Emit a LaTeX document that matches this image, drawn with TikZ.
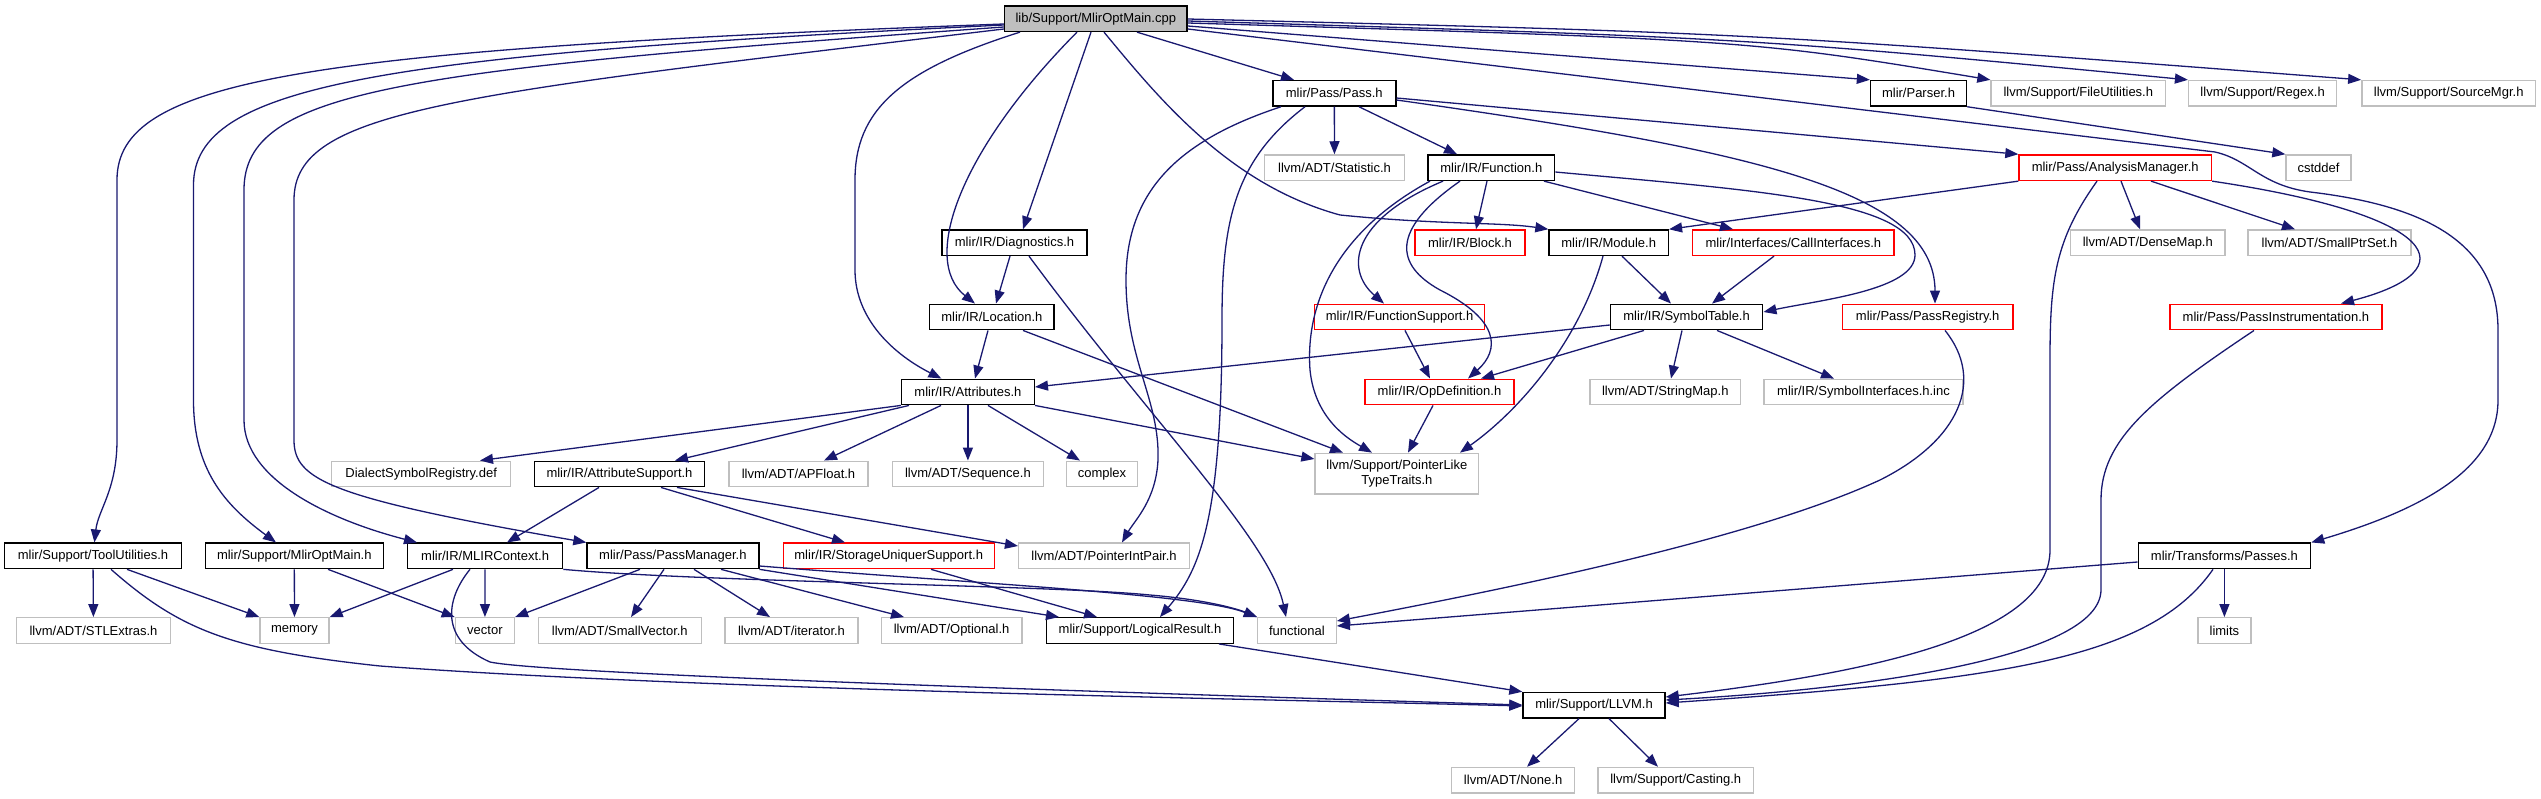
\documentclass[tikz,border=0pt]{standalone}
\usepackage{fontspec}
\setmainfont{Liberation Sans}
\usepackage{tikz}
\usetikzlibrary{arrows.meta}
\definecolor{incblue}{RGB}{25,25,112}
\definecolor{sysgray}{RGB}{191,191,191}
\definecolor{rootfill}{RGB}{191,191,191}
\definecolor{truncred}{RGB}{255,0,0}
\tikzset{
  hdr/.style={rectangle,draw=black,line width=1.4pt,inner sep=0pt,minimum height=25.5pt,font=\fontsize{13}{15}\selectfont,align=center},
  roothdr/.style={hdr,fill=rootfill},
  syshdr/.style={hdr,draw=sysgray},
  trunchdr/.style={hdr,draw=truncred},
  incl/.style={-{Triangle[length=13pt,width=10pt]},incblue,line width=1.3pt}
}
\begin{document}
\begin{tikzpicture}[x=1pt,y=-1pt]
  \useasboundingbox (0,0) rectangle (2541,799);
  \node[roothdr,minimum width=182.5pt] (main) at (1095.8,18.7) {lib/Support/MlirOptMain.cpp};
  \node[hdr,minimum width=123pt] (passh) at (1334.3,93.3) {mlir/Pass/Pass.h};
  \node[hdr,minimum width=96pt] (parser) at (1918.5,93.3) {mlir/Parser.h};
  \node[syshdr,minimum width=174.6pt] (fileutil) at (2078.3,93.3) {llvm/Support/FileUtilities.h};
  \node[syshdr,minimum width=148pt] (regex) at (2262.6,93.3) {llvm/Support/Regex.h};
  \node[syshdr,minimum width=173.8pt] (srcmgr) at (2448.7,93.3) {llvm/Support/SourceMgr.h};
  \node[syshdr,minimum width=140pt] (statistic) at (1334.5,167.7) {llvm/ADT/Statistic.h};
  \node[hdr,minimum width=126.6pt] (function) at (1491.3,167.7) {mlir/IR/Function.h};
  \node[trunchdr,minimum width=192.4pt] (analysis) at (2115.2,167.7) {mlir/Pass/AnalysisManager.h};
  \node[syshdr,minimum width=65pt] (cstddef) at (2318.5,167.7) {cstddef};
  \node[hdr,minimum width=145pt] (diagnostics) at (1014.5,242.7) {mlir/IR/Diagnostics.h};
  \node[trunchdr,minimum width=110pt] (block) at (1470,242.7) {mlir/IR/Block.h};
  \node[hdr,minimum width=119.4pt] (module) at (1608.7,242.7) {mlir/IR/Module.h};
  \node[trunchdr,minimum width=201.3pt] (callif) at (1793.4,242.7) {mlir/Interfaces/CallInterfaces.h};
  \node[syshdr,minimum width=154.5pt] (densemap) at (2147.8,242.7) {llvm/ADT/DenseMap.h};
  \node[syshdr,minimum width=163pt] (smallptrset) at (2329.5,242.7) {llvm/ADT/SmallPtrSet.h};
  \node[hdr,minimum width=124.3pt] (location) at (991.9,317) {mlir/IR/Location.h};
  \node[trunchdr,minimum width=170.2pt] (funcsupport) at (1399.6,317) {mlir/IR/FunctionSupport.h};
  \node[hdr,minimum width=152.3pt] (symtable) at (1686.6,317) {mlir/IR/SymbolTable.h};
  \node[trunchdr,minimum width=170.7pt] (passreg) at (1927.7,317) {mlir/Pass/PassRegistry.h};
  \node[trunchdr,minimum width=212.2pt] (passinstr) at (2275.9,317) {mlir/Pass/PassInstrumentation.h};
  \node[hdr,minimum width=132.8pt] (attributes) at (967.9,392) {mlir/IR/Attributes.h};
  \node[trunchdr,minimum width=149pt] (opdef) at (1439.5,392) {mlir/IR/OpDefinition.h};
  \node[syshdr,minimum width=150.5pt] (stringmap) at (1665.3,392) {llvm/ADT/StringMap.h};
  \node[syshdr,minimum width=199pt] (symif) at (1863.5,392) {mlir/IR/SymbolInterfaces.h.inc};
  \node[syshdr,minimum width=179pt] (dialectreg) at (421.2,474) {DialectSymbolRegistry.def};
  \node[hdr,minimum width=170.2pt] (attrsupport) at (619.5,474) {mlir/IR/AttributeSupport.h};
  \node[syshdr,minimum width=139pt] (apfloat) at (798.5,474) {llvm/ADT/APFloat.h};
  \node[syshdr,minimum width=151.2pt] (sequence) at (967.9,474) {llvm/ADT/Sequence.h};
  \node[syshdr,minimum width=70.5pt] (complex) at (1102,474) {complex};
  \node[syshdr,minimum width=163.7pt,minimum height=40.7pt] (ptrlike) at (1396.9,473.7) {llvm/Support/PointerLike\\TypeTraits.h};
  \node[hdr,minimum width=177.3pt] (toolutil) at (93,555.9) {mlir/Support/ToolUtilities.h};
  \node[hdr,minimum width=177.8pt] (optmainh) at (294.3,555.9) {mlir/Support/MlirOptMain.h};
  \node[hdr,minimum width=155pt] (mlirctx) at (485.1,555.9) {mlir/IR/MLIRContext.h};
  \node[hdr,minimum width=171.8pt] (passmgr) at (672.9,555.9) {mlir/Pass/PassManager.h};
  \node[trunchdr,minimum width=211pt] (storage) at (888.7,555.9) {mlir/IR/StorageUniquerSupport.h};
  \node[syshdr,minimum width=170.7pt] (ptrintpair) at (1104,555.9) {llvm/ADT/PointerIntPair.h};
  \node[hdr,minimum width=172.4pt] (transpasses) at (2224.4,555.9) {mlir/Transforms/Passes.h};
  \node[syshdr,minimum width=154.4pt] (stlextras) at (93.5,630.5) {llvm/ADT/STLExtras.h};
  \node[syshdr,minimum width=69pt] (memory) at (294.5,630.5) {memory};
  \node[syshdr,minimum width=59pt] (vector) at (484.9,630.5) {vector};
  \node[syshdr,minimum width=163.2pt] (smallvec) at (619.8,630.5) {llvm/ADT/SmallVector.h};
  \node[syshdr,minimum width=133pt] (iterator) at (791.5,630.5) {llvm/ADT/iterator.h};
  \node[syshdr,minimum width=140.4pt] (optional) at (951.6,630.5) {llvm/ADT/Optional.h};
  \node[hdr,minimum width=186.5pt] (logicalres) at (1140,630.5) {mlir/Support/LogicalResult.h};
  \node[syshdr,minimum width=78.6pt] (functional) at (1296.9,630.5) {functional};
  \node[syshdr,minimum width=53.2pt] (limits) at (2224.4,630.5) {limits};
  \node[hdr,minimum width=142pt] (llvmh) at (1594,705.2) {mlir/Support/LLVM.h};
  \node[syshdr,minimum width=123pt] (noneh) at (1513.1,780.2) {llvm/ADT/None.h};
  \node[syshdr,minimum width=155.4pt] (casting) at (1675.7,780.2) {llvm/Support/Casting.h};

  \draw[incl] (main.west |- 0,24) .. controls (300,50) and (117,80) .. (117,180) -- (117,440) .. controls (117,490) and (98,510) .. (toolutil);
  \draw[incl] (main.west |- 0,25) .. controls (380,55) and (193.5,85) .. (193.5,185) -- (193.5,400) .. controls (193.5,470) and (225,505) .. (optmainh);
  \draw[incl] (main.west |- 0,27) .. controls (400,70) and (244,90) .. (244,190) -- (244,420) .. controls (244,480) and (330,520) .. (mlirctx.north -| 417,0);
  \draw[incl] (main.west |- 0,29) .. controls (450,95) and (294,110) .. (294,200) -- (294,440) .. controls (294,480) and (330,498) .. (passmgr.north west);
  \draw[incl] (main.south -| 1020,0) .. controls (900,70) and (855,110) .. (855,180) -- (855,270) .. controls (855,320) and (895,355) .. (attributes);
  \draw[incl] (main.south -| 1077,0) .. controls (960,150) and (920,260) .. (location);
  \draw[incl] (main.south -| 1091,0) -- (diagnostics.north -| 1023,0);
  \draw[incl] (main.south -| 1104,0) .. controls (1160,100) and (1230,185) .. (1340,215) .. controls (1440,225) and (1500,222) .. (module.north west);
  \draw[incl] (main.south -| 1137,0) -- (passh.north -| 1294,0);
  \draw[incl] (main.east |- 0,26) -- (parser.north west);
  \draw[incl] (main.east |- 0,23) .. controls (1750,40) .. (fileutil.north west);
  \draw[incl] (main.east |- 0,21) .. controls (1750,38) .. (regex.north west);
  \draw[incl] (main.east |- 0,19) .. controls (1750,33) .. (srcmgr.north west);
  \draw[incl] (main.east |- 0,29) -- (2215,152) .. controls (2250,160) and (2260,185) .. (2310,192) .. controls (2420,205) and (2498,240) .. (2498,330) -- (2498,400) .. controls (2498,470) and (2420,510) .. (transpasses.north east);

  \draw[incl] (passh) -- (statistic);
  \draw[incl] (passh.south -| 1359,0) -- (function.north -| 1457,0);
  \draw[incl] (passh.east |- 0,98) -- (analysis.north west);
  \draw[incl] (passh.east |- 0,100) .. controls (1750,150) and (1935,190) .. (passreg.north -| 1935,0);
  \draw[incl] (passh.south -| 1305,0) .. controls (1235,160) and (1222,220) .. (1222,320) .. controls (1222,520) and (1200,570) .. (logicalres.north -| 1160,0);
  \draw[incl] (passh.south -| 1281,0) .. controls (1180,140) and (1126,190) .. (1126,280) .. controls (1126,360) and (1160,400) .. (1158,460) .. controls (1156,500) and (1135,520) .. (ptrintpair.north -| 1122,0);

  \draw[incl] (diagnostics.south -| 1010,0) -- (location.north -| 996,0);
  \draw[incl] (diagnostics.south -| 1029,0) .. controls (1150,420) and (1270,540) .. (functional.north -| 1286,0);
  \draw[incl] (location.south -| 988,0) -- (attributes.north -| 975,0);
  \draw[incl] (location.south -| 1023,0) -- (ptrlike.north -| 1343,0);

  \draw[incl] (function.south -| 1487,0) -- (block.north -| 1476,0);
  \draw[incl] (function.south -| 1443,0) .. controls (1350,220) and (1345,270) .. (funcsupport.north -| 1384,0);
  \draw[incl] (function.south -| 1460,0) .. controls (1390,230) and (1395,265) .. (1440,290) .. controls (1500,320) and (1500,350) .. (opdef.north -| 1468,0);
  \draw[incl] (function.south -| 1430,0) .. controls (1340,230) and (1305,300) .. (1310,370) .. controls (1315,420) and (1350,440) .. (ptrlike.north -| 1372,0);
  \draw[incl] (function.south -| 1544,0) -- (callif.north -| 1733,0);
  \draw[incl] (function.east |- 0,172) .. controls (1750,190) and (1915,200) .. (1915,255) .. controls (1915,290) and (1820,300) .. (symtable.east |- 0,312);

  \draw[incl] (module.south -| 1622,0) -- (symtable.north -| 1671,0);
  \draw[incl] (module.south -| 1603,0) .. controls (1580,340) and (1520,410) .. (ptrlike.north -| 1460,0);
  \draw[incl] (callif.south -| 1774,0) -- (symtable.north -| 1712,0);
  \draw[incl] (symtable.west |- 0,325) -- (attributes.east |- 0,387);
  \draw[incl] (symtable.south -| 1644,0) -- (opdef.north -| 1481,0);
  \draw[incl] (symtable.south -| 1682,0) -- (stringmap.north -| 1671,0);
  \draw[incl] (symtable.south -| 1717,0) -- (symif.north -| 1834,0);
  \draw[incl] (funcsupport.south -| 1405,0) -- (opdef.north -| 1430,0);
  \draw[incl] (opdef.south -| 1433,0) -- (ptrlike.north -| 1408,0);

  \draw[incl] (analysis.south west) -- (module.north east);
  \draw[incl] (analysis.south -| 2097,0) .. controls (2055,240) and (2050,280) .. (2050,360) -- (2050,550) .. controls (2050,640) and (1850,675) .. (llvmh.east |- 0,697);
  \draw[incl] (analysis.south -| 2121,0) -- (densemap.north -| 2140,0);
  \draw[incl] (analysis.south -| 2151,0) -- (smallptrset.north -| 2295,0);
  \draw[incl] (analysis.south east) .. controls (2440,215) and (2470,270) .. (passinstr.north -| 2341,0);
  \draw[incl] (passreg.south -| 1945,0) .. controls (1985,380) and (1960,440) .. (1880,480) .. controls (1750,540) and (1500,590) .. (functional.east |- 0,621);
  \draw[incl] (passinstr.south -| 2254,0) .. controls (2150,400) and (2101,440) .. (2101,500) -- (2101,590) .. controls (2100,660) and (1850,690) .. (llvmh.east |- 0,700);
  \draw[incl] (transpasses.west |- 0,562) -- (functional.east |- 0,626);
  \draw[incl] (transpasses) -- (limits);
  \draw[incl] (transpasses.south -| 2213,0) .. controls (2150,660) and (2000,680) .. (llvmh.east |- 0,703);

  \draw[incl] (attributes.south west) -- (dialectreg.north -| 480,0);
  \draw[incl] (attributes.south -| 909,0) -- (attrsupport.north -| 675,0);
  \draw[incl] (attributes.south -| 941,0) -- (apfloat.north -| 824,0);
  \draw[incl] (attributes) -- (sequence);
  \draw[incl] (attributes.south -| 988,0) -- (complex.north -| 1080,0);
  \draw[incl] (attributes.south east) -- (ptrlike.west |- 0,459);
  \draw[incl] (attrsupport.south -| 599,0) -- (mlirctx.north -| 507,0);
  \draw[incl] (attrsupport.south -| 661,0) -- (storage.north -| 845,0);
  \draw[incl] (attrsupport.south -| 677,0) -- (ptrintpair.west |- 0,546);
  \draw[incl] (storage.south -| 931,0) -- (logicalres.north -| 1097,0);

  \draw[incl] (toolutil) -- (stlextras);
  \draw[incl] (toolutil.south -| 127,0) -- (memory.north west);
  \draw[incl] (toolutil.south -| 111,0) .. controls (180,630) and (230,650) .. (380,666) .. controls (700,690) and (1300,700) .. (llvmh.west |- 0,706);
  \draw[incl] (optmainh) -- (memory);
  \draw[incl] (optmainh.south -| 328,0) -- (vector.north west);
  \draw[incl] (mlirctx.south -| 453,0) -- (memory.north east);
  \draw[incl] (mlirctx) -- (vector);
  \draw[incl] (mlirctx.south -| 470,0) .. controls (445,600) and (440,640) .. (490,662) .. controls (550,675) and (1200,695) .. (llvmh.west |- 0,705);
  \draw[incl] (mlirctx.south east) .. controls (700,582) and (1050,585) .. (1150,595) .. controls (1210,600) and (1240,610) .. (functional.north west);
  \draw[incl] (passmgr.south -| 640,0) -- (vector.north east);
  \draw[incl] (passmgr.south -| 664,0) -- (smallvec.north -| 631,0);
  \draw[incl] (passmgr.south -| 694,0) -- (iterator.north -| 770,0);
  \draw[incl] (passmgr.south -| 721,0) -- (optional.north -| 904,0);
  \draw[incl] (passmgr.south east) -- (logicalres.north -| 1059,0);
  \draw[incl] (passmgr.east |- 0,566) .. controls (1000,585) and (1200,595) .. (functional.north west);
  \draw[incl] (logicalres.south -| 1219,0) -- (llvmh.north west);
  \draw[incl] (llvmh.south -| 1579,0) -- (noneh.north -| 1527,0);
  \draw[incl] (llvmh.south -| 1609,0) -- (casting.north -| 1658,0);
  \draw[incl] (parser.south east) -- (cstddef.north west);
\end{tikzpicture}
\end{document}
